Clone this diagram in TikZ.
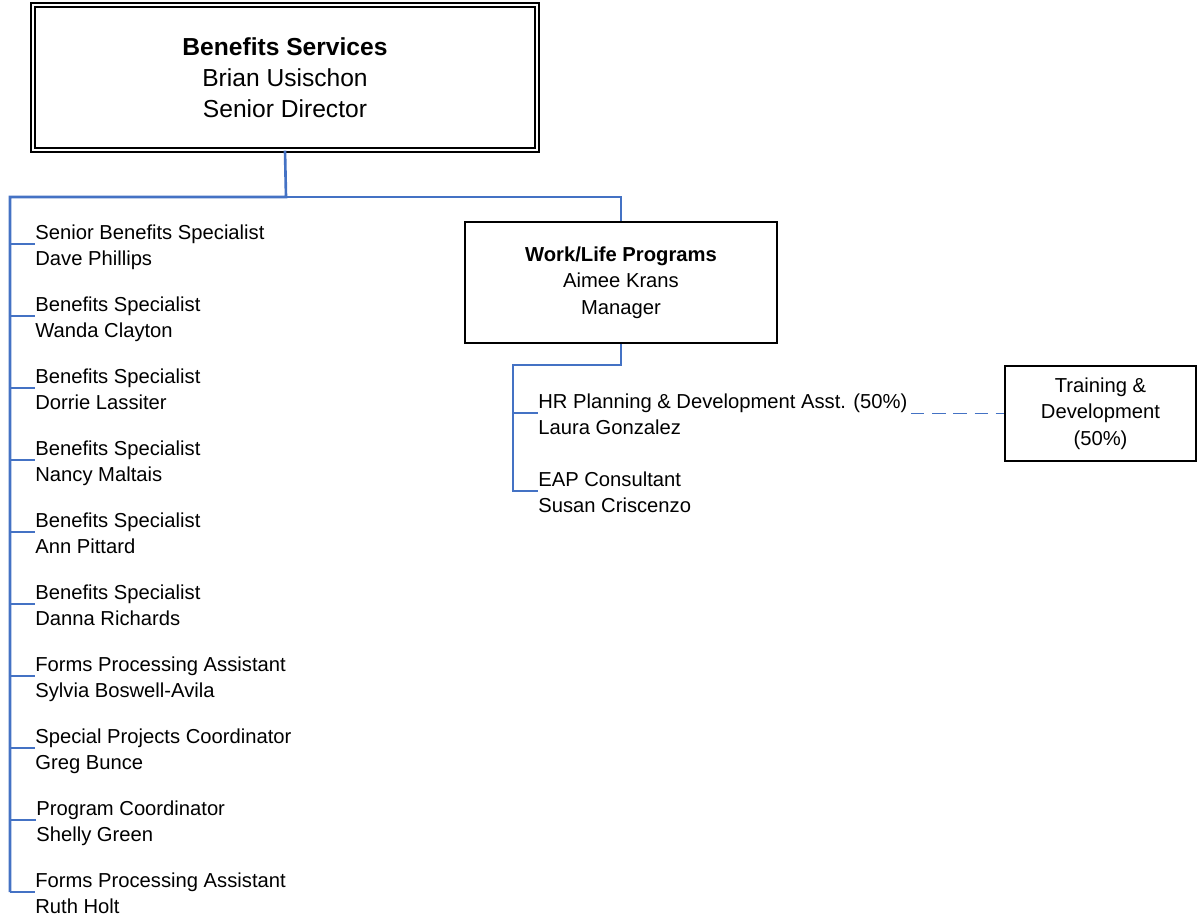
\documentclass[tikz,border=0pt]{standalone}
\usepackage{fontspec}
\setmainfont{Liberation Sans}
\definecolor{linkblue}{HTML}{4472C4}

\begin{document}
\begin{tikzpicture}[x=0.02cm,y=-0.02cm,
   box/.style={draw,line width=1.1pt,align=center,inner sep=0pt,font=\fontsize{11.5}{15.2}\selectfont},
   item/.style={anchor=west,align=left,inner sep=0pt,text height=26.4pt,text depth=2.4pt,font=\fontsize{11.5}{14.8}\selectfont},
   trunk/.style={linkblue,line width=1.5pt},
   twig/.style={linkblue,line width=0.9pt}]
   \useasboundingbox (0,0) rectangle (1201,919);
   % boxes
   \node at (285,77.5) [draw,double,double distance=1.6pt,line width=0.7pt,minimum width=10.08cm,minimum height=2.9cm,align=center,inner sep=0pt,font=\fontsize{14}{17.6}\selectfont] (top) {\textbf{Benefits Services}\\Brian Usischon\\Senior Director};
   \node at (621,282.5) [box,minimum width=6.24cm,minimum height=2.42cm] (work) {\textbf{Work/Life Programs}\\Aimee Krans\\Manager};
   \node at (1100.5,413.5) [box,minimum width=3.82cm,minimum height=1.9cm] (train) {Training \&\\Development\\(50\%)};
   % left column
   \node at (35,244) [item] (p1) {Senior Benefits Specialist\\Dave Phillips};
   \node at (35,316) [item] (p2) {Benefits Specialist\\Wanda Clayton};
   \node at (35,388) [item] (p3) {Benefits Specialist\\Dorrie Lassiter};
   \node at (35,460) [item] (p4) {Benefits Specialist\\Nancy Maltais};
   \node at (35,532) [item] (p5) {Benefits Specialist\\Ann Pittard};
   \node at (35,604) [item] (p6) {Benefits Specialist\\Danna Richards};
   \node at (35,676) [item] (p7) {Forms Processing Assistant\\Sylvia Boswell-Avila};
   \node at (35,748) [item] (p8) {Special Projects Coordinator\\Greg Bunce};
   \node at (36,820) [item] (p9) {Program Coordinator\\Shelly Green};
   \node at (35,892) [item] (p10) {Forms Processing Assistant\\Ruth Holt};
   % work/life column
   \node at (538,413) [item] (hr) {HR Planning \& Development Asst. (50\%)\\Laura Gonzalez};
   \node at (538,491) [item] (eap) {EAP Consultant\\Susan Criscenzo};
   \coordinate (hub) at (286,197);
   \coordinate (bar) at (10,197);
   \coordinate (wlhub) at (513,365);
   % connectors
   \draw[trunk] (top.south) -- (hub) -- (bar) -- (bar |- p10.west);
   \draw[twig] (hub) -| (work.north);
   \draw[twig] (bar |- p1.west) -- (p1.west) (bar |- p2.west) -- (p2.west) (bar |- p3.west) -- (p3.west)
      (bar |- p4.west) -- (p4.west) (bar |- p5.west) -- (p5.west) (bar |- p6.west) -- (p6.west)
      (bar |- p7.west) -- (p7.west) (bar |- p8.west) -- (p8.west) (bar |- p9.west) -- (p9.west)
      (bar |- p10.west) -- (p10.west);
   \draw[twig,line width=1.1pt] (work.south) |- (wlhub) -- (wlhub |- eap.west) -- (eap.west) (wlhub |- hr.west) -- (hr.west);
   \draw[twig,line width=1.1pt,dash pattern=on 7.5pt off 4.5pt,shorten <=2pt] (hr.east |- train.west) -- (train.west);
\end{tikzpicture}
\end{document}
